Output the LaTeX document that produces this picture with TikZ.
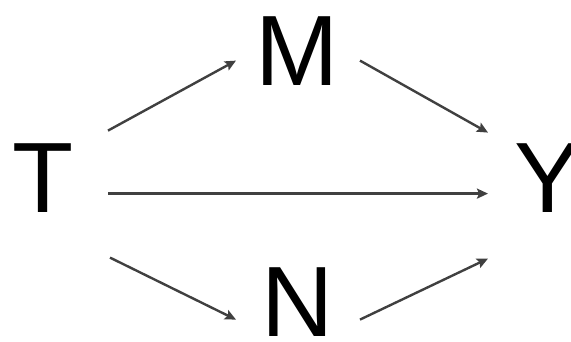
\documentclass[tikz,border=0pt]{standalone}
\usepackage{fontspec}
\setmainfont{Liberation Sans}
\usetikzlibrary{arrows.meta}
\begin{document}
\begin{tikzpicture}[x=1pt,y=-1pt,
  lbl/.style={inner sep=0pt,font=\fontsize{100}{100}\selectfont},
  arr/.style={draw=black!75,line width=2.4pt,-{Stealth[length=11pt,width=10pt,inset=2pt]}}]
\useasboundingbox (0,0) rectangle (571,341);
\node[lbl,anchor=base] (T) at (43,212) {T};
\node[lbl,anchor=base] (M) at (297,85) {M};
\node[lbl,anchor=base] (Y) at (548,212) {Y};
\node[lbl,anchor=base] (N) at (298,336) {N};
\draw[arr] ([shift={(65,-47)}]T.center) -- ([shift={(-61,10)}]M.center);
\draw[arr] ([shift={(63,10)}]M.center) -- ([shift={(-60,-45)}]Y.center);
\draw[arr] ([shift={(65,16)}]T.center) -- ([shift={(-60,16)}]Y.center);
\draw[arr] ([shift={(67,80)}]T.center) -- ([shift={(-62,18)}]N.center);
\draw[arr] ([shift={(62,18)}]N.center) -- ([shift={(-60,81)}]Y.center);
\end{tikzpicture}
\end{document}
